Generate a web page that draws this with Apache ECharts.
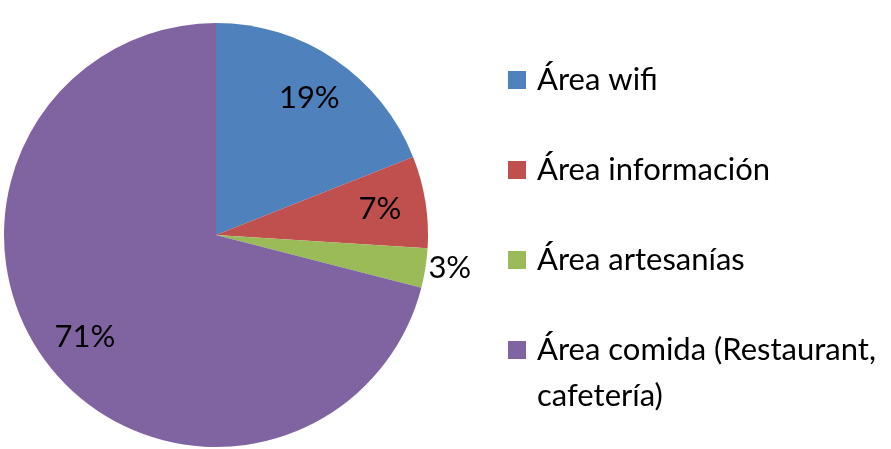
<!DOCTYPE html>
<html>
<head>
<meta charset="utf-8">
<script src="https://cdn.jsdelivr.net/npm/echarts@6/dist/echarts.min.js"></script>
<style>
  html, body { margin: 0; padding: 0; background: #fff; }
  #chart { width: 891px; height: 449px; }
</style>
</head>
<body>
<div id="chart"></div>
<script>
// categories and values
var categories = ['Área wifi', 'Área información', 'Área artesanías', 'Área comida (Restaurant, cafetería)'];
var values = [19, 7, 3, 71];
var colors = ['#4F81BD', '#C0504D', '#9BBB59', '#8064A2'];
// slice that Excel put outside
var outsideIndex = 2;

var FONT = 'Lato';
var R = 212;

var chart = echarts.init(document.getElementById('chart'));

function pct(p) {
  return Math.round(p.percent) + '%';
}

// slices, only the small one labelled outside
var mainData = values.map(function (v, i) {
  return {
    value: v,
    name: categories[i],
    label: { show: i === outsideIndex }
  };
});
// transparent copy that carries the inside labels further out
var labelData = values.map(function (v, i) {
  return {
    value: v,
    name: categories[i],
    label: { show: i !== outsideIndex }
  };
});

// one legend per item so the wrapped last one lines up like the original
var legendTops = [62, 152, 242, 281];
var legends = categories.map(function (name, i) {
  var last = i === categories.length - 1;
  return {
    orient: 'vertical',
    left: 508,
    top: legendTops[i],
    padding: 0,
    itemWidth: 18,
    itemHeight: 18,
    icon: 'rect',
    selectedMode: false,
    data: [name],
    formatter: function (n) {
      // blank first line keeps the real first line level with the square
      return last ? ' \n' + n.replace('(Restaurant, ', '(Restaurant,\n') : n;
    },
    textStyle: {
      fontFamily: FONT,
      fontSize: 31,
      color: '#000',
      lineHeight: last ? 46 : 36,
      padding: [0, 0, 0, 6]
    }
  };
});

var option = {
  backgroundColor: '#fff',
  color: colors,
  animation: false,
  legend: legends,
  series: [{
    type: 'pie',
    center: [216, 235],
    radius: [0, R],
    startAngle: 90,
    clockwise: true,
    avoidLabelOverlap: false,
    silent: true,
    itemStyle: { borderWidth: 0 },
    label: {
      position: 'outside',
      formatter: pct,
      fontFamily: FONT,
      fontSize: 31,
      color: '#000',
      distanceToLabelLine: 3
    },
    labelLine: { show: false, length: 0, length2: 0 },
    data: mainData
  }, {
    type: 'pie',
    center: [216, 235],
    radius: [114, R],
    startAngle: 90,
    clockwise: true,
    silent: true,
    itemStyle: { color: 'transparent', borderWidth: 0 },
    emphasis: { disabled: true },
    label: {
      position: 'inside',
      formatter: pct,
      fontFamily: FONT,
      fontSize: 31,
      color: '#000'
    },
    labelLine: { show: false },
    data: labelData
  }]
};

chart.setOption(option);
</script>
</body>
</html>
